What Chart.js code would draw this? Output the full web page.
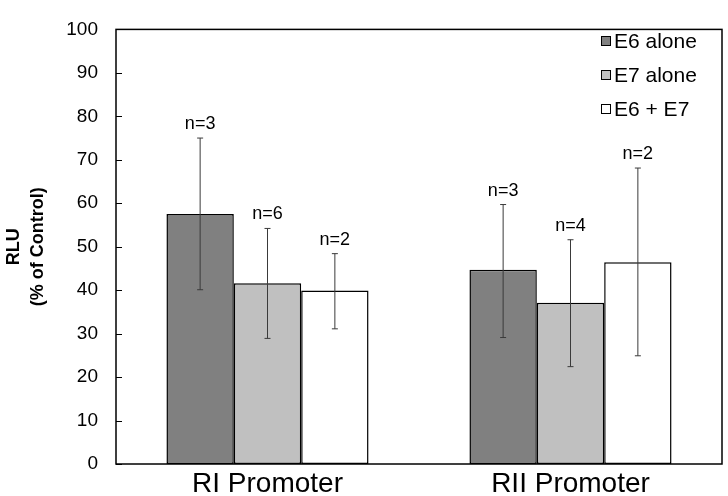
<!DOCTYPE html>
<html>
<head>
<meta charset="utf-8">
<script src="https://cdn.jsdelivr.net/npm/chart.js@4/dist/chart.umd.min.js"></script>
<style>
  html, body { margin: 0; padding: 0; background: #fff; }
  #wrap { width: 728px; height: 496px; }
</style>
</head>
<body>
<div id="wrap"><canvas id="c" width="728" height="496"></canvas></div>
<script>
const categories = ['RI Promoter', 'RII Promoter'];
const seriesNames = ['E6 alone', 'E7 alone', 'E6 + E7'];
const e6Alone = [57.5, 44.7];
const e7Alone = [41.6, 37.1];
const e6PlusE7 = [39.9, 46.4];
const e6Low = [40.1, 29.1];
const e6High = [75.0, 59.7];
const e7Low = [28.9, 22.4];
const e7High = [54.2, 51.6];
const comboLow = [31.1, 24.9];
const comboHigh = [48.4, 68.1];
const e6N = ['n=3', 'n=3'];
const e7N = ['n=6', 'n=4'];
const comboN = ['n=2', 'n=2'];
const yTicks = [0, 10, 20, 30, 40, 50, 60, 70, 80, 90, 100];

const FONT = 'Arial, "Liberation Sans", Helvetica, sans-serif';

const errLow = [e6Low, e7Low, comboLow];
const errHigh = [e6High, e7High, comboHigh];
const nLabels = [e6N, e7N, comboN];

const extrasPlugin = {
  id: 'extras',
  afterDatasetsDraw(chart) {
    const ctx = chart.ctx;
    const y = chart.scales.y;
    const area = chart.chartArea;
    ctx.save();
    // error bars and n labels
    chart.data.datasets.forEach((ds, di) => {
      const meta = chart.getDatasetMeta(di);
      meta.data.forEach((bar, i) => {
        const x = bar.x;
        const yl = y.getPixelForValue(errLow[di][i]);
        const yh = y.getPixelForValue(errHigh[di][i]);
        ctx.strokeStyle = '#3a3a3a';
        ctx.lineWidth = 1;
        ctx.beginPath();
        ctx.moveTo(x, yh); ctx.lineTo(x, yl);
        ctx.moveTo(x - 3, yh); ctx.lineTo(x + 3, yh);
        ctx.moveTo(x - 3, yl); ctx.lineTo(x + 3, yl);
        ctx.stroke();
        ctx.fillStyle = '#000';
        ctx.font = '18px ' + FONT;
        ctx.textAlign = 'center';
        ctx.textBaseline = 'alphabetic';
        ctx.fillText(nLabels[di][i], x, yh - 9);
      });
    });
    // frame
    ctx.strokeStyle = '#000';
    ctx.lineWidth = 1.5;
    ctx.strokeRect(area.left, area.top, area.right - area.left, area.bottom - area.top);
    // inward tick marks on y axis
    ctx.lineWidth = 1;
    yTicks.forEach(v => {
      const py = Math.round(y.getPixelForValue(v)) + 0.5;
      ctx.beginPath();
      ctx.moveTo(area.left, py); ctx.lineTo(area.left + 6, py);
      ctx.stroke();
    });
    // legend
    ctx.font = '21px ' + FONT;
    ctx.textAlign = 'left';
    ctx.textBaseline = 'middle';
    const lx = 601, ly0 = 41, step = 34;
    chart.data.datasets.forEach((ds, di) => {
      const cy = ly0 + di * step;
      ctx.fillStyle = ds.backgroundColor;
      ctx.fillRect(lx, cy - 5, 10, 10);
      ctx.strokeStyle = '#000';
      ctx.lineWidth = 1;
      ctx.strokeRect(lx + 0.5, cy - 4.5, 9, 9);
      ctx.fillStyle = '#000';
      ctx.fillText(ds.label, lx + 13, cy + 1);
    });
    ctx.restore();
  }
};

const colors = ['#808080', '#c0c0c0', '#ffffff'];
const values = [e6Alone, e7Alone, e6PlusE7];

new Chart(document.getElementById('c'), {
  type: 'bar',
  data: {
    labels: categories,
    datasets: seriesNames.map((name, i) => ({
      label: name,
      data: values[i],
      backgroundColor: colors[i],
      borderColor: '#000',
      borderWidth: 1.5,
      borderSkipped: false,
      barPercentage: 1.0,
      categoryPercentage: 0.667
    }))
  },
  options: {
    responsive: false,
    animation: false,
    devicePixelRatio: 1,
    layout: { padding: { top: 12, right: 6, left: 0, bottom: 0 } },
    plugins: {
      legend: { display: false },
      tooltip: { enabled: false }
    },
    scales: {
      x: {
        grid: { display: false, drawTicks: false },
        border: { display: false },
        ticks: {
          color: '#000',
          font: { family: FONT, size: 28, lineHeight: 1 },
          padding: 6
        },
        afterFit(scale) { scale.height = 32; }
      },
      y: {
        min: 0,
        max: 100,
        afterBuildTicks(scale) { scale.ticks = yTicks.map(v => ({ value: v })); },
        grid: { display: false, drawTicks: false },
        border: { display: false },
        ticks: {
          color: '#000',
          font: { family: FONT, size: 19 },
          padding: 18
        },
        title: {
          display: true,
          text: ['RLU', '(% of Control)'],
          color: '#000',
          font: { family: FONT, size: 18, weight: 'bold', lineHeight: 1.35 },
          padding: { top: 2, bottom: 0 }
        },
        afterFit(scale) { scale.width = 116; }
      }
    }
  },
  plugins: [extrasPlugin]
});
</script>
</body>
</html>
